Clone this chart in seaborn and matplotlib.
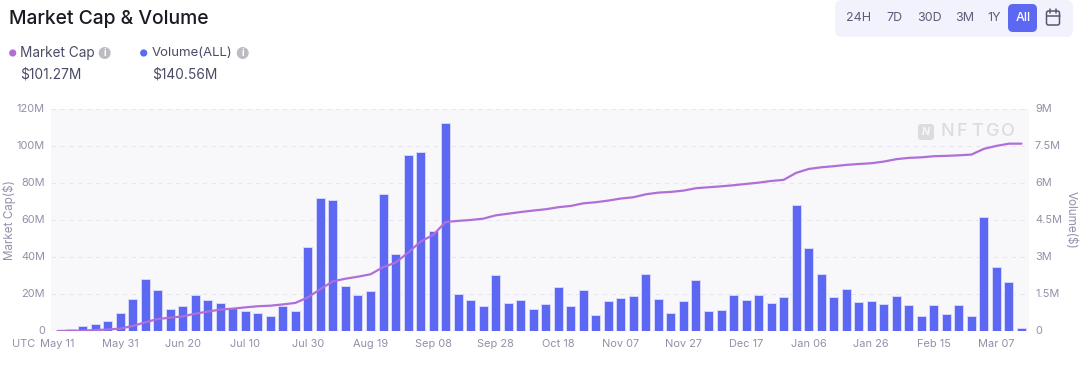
import numpy as np
import pandas as pd
import matplotlib
matplotlib.use("Agg")
import matplotlib.pyplot as plt
import seaborn as sns
from matplotlib.patches import FancyBboxPatch, Circle
from matplotlib.lines import Line2D
from matplotlib.transforms import ScaledTranslation

# values in $M
volume = [0.01, 0.08, 0.22, 0.28, 0.41, 0.73, 1.30, 2.11, 1.66, 0.91, 1.01, 1.47, 1.24,
          1.12, 0.92, 0.80, 0.72, 0.61, 1.03, 0.81, 3.40, 5.41, 5.30, 1.81, 1.45, 1.64,
          5.55, 3.14, 7.14, 7.27, 4.05, 8.46, 1.52, 1.27, 1.03, 2.26, 1.15, 1.26, 0.88,
          1.10, 1.77, 1.00, 1.66, 0.65, 1.20, 1.33, 1.41, 2.30, 1.29, 0.73, 1.22, 2.07,
          0.80, 0.84, 1.47, 1.26, 1.47, 1.15, 1.38, 5.12, 3.36, 2.31, 1.37, 1.71, 1.16,
          1.22, 1.10, 1.43, 1.07, 0.60, 1.04, 0.68, 1.06, 0.61, 4.63, 2.60, 1.99, 0.11]
market_cap = [0.0, 0.1, 0.2, 0.5, 0.8, 1.3, 2.7, 4.7, 6.5, 7.2, 7.9, 9.4, 10.5,
              11.6, 12.1, 12.8, 13.4, 13.7, 14.4, 15.2, 18.2, 22.7, 26.9, 28.3, 29.4, 30.7,
              34.5, 37.0, 42.4, 48.4, 52.0, 59.0, 59.6, 60.1, 60.8, 62.6, 63.5, 64.4, 65.2,
              65.9, 67.0, 67.7, 69.1, 69.7, 70.6, 71.7, 72.4, 74.0, 74.9, 75.3, 76.0, 77.3,
              77.8, 78.3, 78.9, 79.6, 80.3, 81.2, 81.8, 85.6, 87.7, 88.6, 89.2, 89.9, 90.4,
              90.8, 91.7, 93.0, 93.7, 94.0, 94.6, 94.8, 95.1, 95.5, 98.6, 100.2, 101.4, 101.4]
date_labels = ["May 11", "May 31", "Jun 20", "Jul 10", "Jul 30", "Aug 19", "Sep 08", "Sep 28",
               "Oct 18", "Nov 07", "Nov 27", "Dec 17", "Jan 06", "Jan 26", "Feb 15", "Mar 07"]
cap_ticks = [0, 20, 40, 60, 80, 100, 120]
cap_labels = ["0", "20M", "40M", "60M", "80M", "100M", "120M"]
vol_ticks = [0, 1.5, 3, 4.5, 6, 7.5, 9]
vol_labels = ["0", "1.5M", "3M", "4.5M", "6M", "7.5M", "9M"]
ranges = ["24H", "7D", "30D", "3M", "1Y"]
range_x = [859, 894, 929, 965, 994]

W, H = 1080, 366
BLUE = "#5c67f2"
PURPLE = "#b06fd8"
GRAY = "#8f91a8"
DARK = "#4a4c66"
TICK = 7.9

sns.set_theme(style="white")
plt.rcParams["font.family"] = ["Inter", "DejaVu Sans"]

df = pd.DataFrame({"i": range(len(volume)), "volume": volume, "market_cap": market_cap})

fig = plt.figure(figsize=(W / 100, H / 100), dpi=100, facecolor="white")
# plot area 51..1029 px, 109.3..331 px
ax2 = fig.add_axes([51 / W, 1 - 331 / H, 978 / W, 221.7 / H])
ax = ax2.twinx()

# bars on the right axis
ax2.set_facecolor("#f8f8fb")
sns.barplot(data=df, x="i", y="volume", ax=ax2, color=BLUE, saturation=1, width=0.72,
            edgecolor="#d5d8fb", linewidth=0.7, zorder=3)
ax2.set_ylim(0, 9)
ax2.set_xlim(-0.52, 77.6)
ax2.yaxis.tick_right()
ax2.yaxis.set_label_position("right")
ax2.set_yticks(vol_ticks)
ax2.set_yticklabels(vol_labels, fontsize=TICK, color=GRAY)
ax2.set_xticks(range(0, len(volume), 5))
ax2.set_xticklabels(date_labels, fontsize=TICK, color=GRAY)
ax2.set_xlabel("")
ax2.set_ylabel("")
ax2.grid(axis="y", color="#e7e7f1", linestyle=(0, (4, 4)), linewidth=0.8, zorder=0)
ax2.set_axisbelow(True)
ax2.tick_params(axis="both", length=0, pad=6)
ax2.tick_params(axis="y", pad=4.3)
for s in ax2.spines.values():
    s.set_visible(False)

# line on the left axis, above the bars
sns.lineplot(data=df, x="i", y="market_cap", ax=ax, color=PURPLE, linewidth=1.6, zorder=4)
ax.set_ylim(0, 120)
ax.set_xlim(-0.52, 77.6)
ax.yaxis.tick_left()
ax.set_yticks(cap_ticks)
ax.set_yticklabels(cap_labels, fontsize=TICK, color=GRAY)
ax.tick_params(axis="y", length=0, pad=4.3)
ax.set_xlabel("")
ax.set_ylabel("")
ax.patch.set_visible(False)
ax.set_zorder(ax2.get_zorder() + 1)
for s in ax.spines.values():
    s.set_visible(False)

# y labels sit a little above their gridlines
lift = ScaledTranslation(0, 1.5 / 100, fig.dpi_scale_trans)
for lab in ax.get_yticklabels() + ax2.get_yticklabels():
    lab.set_transform(lab.get_transform() + lift)


def put(x, y, s, size=8.4, color=GRAY, ha="left", **kw):
    fig.text(x / W, 1 - y / H, s, fontsize=size, color=color, ha=ha, va="center", **kw)


def box(x0, y0, x1, y1, r, color):
    fig.add_artist(FancyBboxPatch((x0, H - y1), x1 - x0, y1 - y0,
                                  boxstyle=f"round,pad=0,rounding_size={r}",
                                  transform=None, fc=color, ec="none"))


def dot(x, y, r, color):
    fig.add_artist(Circle((x, H - y), r, transform=None, fc=color, ec="none"))


put(12, 344, "UTC", size=TICK)
put(9, 220, "Market Cap($)", ha="center", rotation=90)
put(1071, 220, "Volume($)", ha="center", rotation=270)

# header
put(9, 19, "Market Cap & Volume", size=13.9, color="#1a1a24", fontweight="medium")
dot(12.7, 53, 3.6, PURPLE)
put(20.5, 53.5, "Market Cap", size=9.8, color=DARK)
dot(104.7, 53, 6, "#bcbcc2")
put(104.7, 53, "i", size=7, color="white", ha="center", fontweight="bold")
put(20.5, 75, "$101.27M", size=9.9, color=DARK)
dot(143.7, 53, 3.6, BLUE)
put(152, 53.5, "Volume(ALL)", size=9.5, color=DARK)
dot(242.7, 53, 6, "#bcbcc2")
put(242.7, 53, "i", size=7, color="white", ha="center", fontweight="bold")
put(152, 75, "$140.56M", size=9.9, color=DARK)

# range selector
box(835, 0, 1073, 37, 7, "#f2f2fd")
box(1008, 4, 1037, 32, 5, BLUE)
for x, s in zip(range_x, ranges):
    put(x, 18, s, size=9.0, color="#5c5e78", ha="center")
put(1023, 18, "All", size=9.0, color="white", ha="center", fontweight="medium")

# calendar icon
fig.add_artist(FancyBboxPatch((1046.5, H - 25), 13, 14, boxstyle="round,pad=0,rounding_size=2",
                              transform=None, fc="none", ec="#55576f", lw=1.1))
for xs, ys in [((1046.5, 1059.5), (15.5, 15.5)), ((1050, 1050), (9, 12.5)), ((1056, 1056), (9, 12.5))]:
    fig.add_artist(Line2D(xs, [H - y for y in ys], transform=None, color="#55576f", lw=1.1))

# watermark, wide letters so spaced by hand
box(918, 124, 934, 140, 3, "#dcdce0")
put(926, 132, "N", size=7.5, color="#f8f8fb", ha="center", fontweight="bold", style="italic")
for x, s in zip([947, 962, 977, 993, 1008], "NFTGO"):
    put(x, 132, s, size=13, color="#dcdce0", ha="center", fontweight="medium")

fig.savefig("out.png", dpi=100)
